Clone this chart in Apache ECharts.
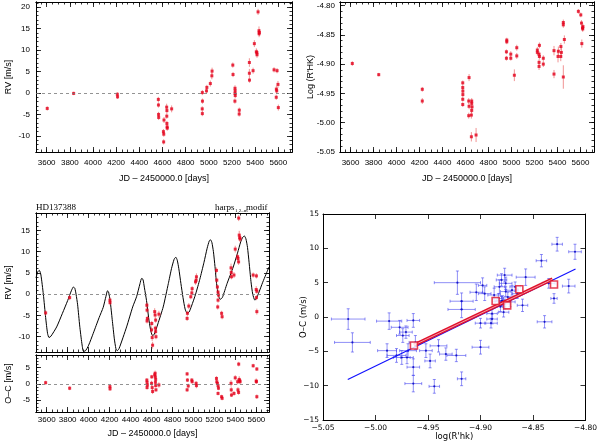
<!DOCTYPE html>
<html>
<head>
<meta charset="utf-8">
<script src="https://cdn.jsdelivr.net/npm/echarts@6/dist/echarts.min.js"></script>
<style>
html, body { margin: 0; padding: 0; background: #fff; }
#chart { width: 600px; height: 442px; }
</style>
</head>
<body>
<div id="chart"></div>
<script>
// [JD-2450000, RV m/s, err]
var rvTop = [
  [3605,-3.6,0.5],[3833,-0.1,0.4],[4210,-0.3,0.5],[4212,-0.9,0.5],
  [4564,-1.5,0.6],[4565,-2.8,0.6],[4566,-5.0,0.6],[4567,-5.7,0.6],
  [4613,-6.3,0.7],[4608,-9.0,0.6],[4611,-9.6,0.6],[4610,-11.4,0.6],
  [4636,-3.3,0.8],[4638,-4.1,0.7],[4637,-5.4,0.6],[4638,-7.1,0.6],[4640,-7.9,0.6],[4641,-8.2,0.6],
  [4679,-3.7,0.8],
  [4944,0.1,0.6],[4945,-1.9,0.6],[4943,-3.7,0.6],[4944,-4.8,0.6],
  [4980,0.5,0.6],[4983,1.3,0.6],[5013,2.2,0.7],[5026,4.0,0.8],[5028,5.1,0.8],
  [5207,6.5,0.6],[5209,4.3,0.6],[5226,1.1,0.7],[5227,0.5,0.6],[5226,-0.1,0.6],[5228,-0.6,0.6],[5225,-1.9,0.6],
  [5263,-4.0,0.6],[5262,-4.9,0.6],
  [5350,7.1,1.0],[5350,4.6,1.0],[5351,3.0,0.6],[5382,5.2,0.7],[5393,11.5,0.8],
  [5410,9.6,0.8],[5415,9.4,0.7],[5416,8.9,0.7],[5425,18.9,0.7],[5433,14.5,1.0],[5436,14.1,0.8],[5434,13.8,0.8],
  [5563,5.4,0.6],[5589,5.2,0.6],[5583,0.9,0.8],[5586,0.5,0.6],[5582,-1.0,0.6],[5597,2.0,0.8],[5600,-3.4,0.7]
];

// [JD-2450000, log R'HK, err]
var logTop = [
  [3615,-4.899,0.004],[3845,-4.918,0.003],[4224,-4.943,0.004],[4224,-4.963,0.005],
  [4576,-4.932,0.004],[4576,-4.940,0.004],[4577,-4.946,0.004],[4577,-4.952,0.004],[4576,-4.960,0.004],[4576,-4.969,0.004],
  [4631,-4.923,0.006],[4628,-4.963,0.005],[4631,-4.972,0.005],[4628,-4.988,0.005],
  [4654,-4.963,0.005],[4654,-4.967,0.005],[4657,-4.973,0.005],[4654,-4.979,0.005],[4651,-4.987,0.006],[4651,-5.024,0.008],
  [4692,-5.021,0.012],
  [4959,-4.859,0.004],[4959,-4.862,0.004],[4956,-4.879,0.004],[4956,-4.890,0.004],
  [4994,-4.883,0.005],[4994,-4.890,0.004],[5025,-4.919,0.010],[5046,-4.872,0.005],[5046,-4.886,0.005],
  [5225,-4.876,0.005],[5225,-4.880,0.005],[5240,-4.883,0.005],[5243,-4.887,0.005],[5240,-4.897,0.005],[5240,-4.904,0.006],[5243,-4.868,0.005],
  [5277,-4.890,0.005],[5277,-4.900,0.005],
  [5370,-4.877,0.008],[5370,-4.917,0.007],[5405,-4.887,0.010],[5408,-4.878,0.008],[5429,-4.887,0.008],[5434,-4.880,0.008],[5430,-4.870,0.006],
  [5451,-4.829,0.005],[5451,-4.833,0.005],[5451,-4.922,0.020],[5460,-4.858,0.007],
  [5582,-4.810,0.004],[5603,-4.816,0.004],[5609,-4.830,0.005],[5618,-4.838,0.005],[5612,-4.865,0.007],[5620,-4.840,0.005],[5622,-4.836,0.005]
];

// fitted panel: [JD-2450000, RV, err]
var rvFit = [
  [3590,-4.4,0.6],[3819,-0.8,0.6],[4203,-1.4,0.6],[4204,-2.0,0.6],
  [4555,-2.6,0.6],[4557,-3.75,0.6],[4560,-5.7,0.6],[4557,-6.3,0.6],
  [4602,-6.9,0.6],[4600,-8.4,0.8],[4606,-10.2,0.8],[4610,-12.0,0.8],
  [4630,-4.1,0.8],[4634,-4.9,0.8],[4639,-6.1,0.6],[4636,-8.0,0.6],[4639,-8.8,0.6],[4642,-10.0,0.6],
  [4670,-4.7,0.8],
  [4939,-5.7,0.6],[4942,-4.5,0.6],[4955,-2.8,0.7],[4974,-0.6,0.6],[4984,0.3,0.6],[4987,1.3,0.6],[5019,2.9,0.7],[5025,3.3,0.7],[5028,4.1,0.8],
  [5219,5.6,0.7],[5222,3.3,0.6],[5228,1.7,0.6],[5234,0.5,0.6],[5238,-0.2,0.6],[5234,-1.4,0.6],[5231,-3.0,0.6],
  [5268,-4.5,0.6],[5273,-5.3,0.6],
  [5358,6.2,1.0],[5360,5.1,0.8],[5362,4.1,0.6],[5386,4.5,0.7],[5398,10.6,0.8],
  [5421,8.8,0.8],[5424,8.4,0.8],[5430,7.6,0.7],[5431,17.9,0.7],[5436,13.9,1.0],[5441,13.3,0.8],[5444,13.0,0.8],
  [5569,4.5,0.6],[5600,4.3,0.6],[5598,1.1,0.8],[5604,0.7,0.6],[5600,-0.8,0.6],[5604,-4.1,0.7]
];

// residuals: [JD-2450000, O-C, err]
var ocFit = [
  [3590,0.4,0.6],[3819,-1.3,0.6],[4203,-0.8,0.6],[4204,-1.5,0.6],
  [4555,1.2,0.6],[4557,0.5,0.6],[4560,-0.3,0.6],[4557,-1.1,0.6],
  [4602,2.2,0.6],[4600,0.2,0.8],[4606,-1.1,0.8],[4610,-2.3,0.8],
  [4630,2.8,0.8],[4634,3.3,0.8],[4636,2.2,0.6],[4639,1.4,0.6],[4637,0.5,0.6],[4639,-0.5,0.6],[4642,-1.8,0.6],
  [4670,-0.3,0.8],
  [4939,3.1,0.6],[4942,1.2,0.6],[4950,-0.6,0.7],[4939,-1.8,0.6],
  [4984,1.2,0.6],[4987,0.7,0.6],[5025,0.2,0.7],[5028,-0.5,0.8],
  [5219,1.7,0.7],[5222,0.7,0.6],[5228,0.2,0.6],[5234,-0.5,0.6],[5238,-1.3,0.6],[5234,-2.9,0.6],
  [5268,-3.9,0.6],[5273,-4.4,0.6],
  [5358,0.2,1.0],[5360,-1.8,0.8],[5362,-3.4,0.6],[5386,-2.9,0.7],[5398,1.9,0.8],
  [5421,0.7,0.8],[5424,-1.8,0.8],[5430,-2.6,0.7],[5431,6.1,0.7],[5436,1.4,1.0],[5441,1.0,0.8],[5444,0.7,0.8],
  [5569,5.6,0.6],[5598,0.9,0.8],[5600,0.7,0.6],[5604,4.6,0.6],[5604,-3.9,0.7]
];

// model curve: [JD-2450000, RV]
var fitCurve = [
  [3498,3.8],[3515,5.3],[3530,5.6],[3545,4.5],[3568,0],[3590,-5.5],[3608,-9.2],[3622,-10.2],[3640,-9.9],
  [3695,-7.7],[3750,-4.5],[3800,-1.5],[3835,0.8],[3855,1.7],[3868,1.4],[3880,0],[3895,-2.5],[3915,-7.5],
  [3935,-11.5],[3950,-13.4],[3965,-13.4],[4000,-12],[4044,-9.2],[4100,-5.5],[4139,-3.1],[4165,-0.5],
  [4180,0.8],[4190,0.5],[4205,-1.5],[4225,-6],[4245,-10.5],[4260,-12.8],[4272,-13.3],[4290,-12.8],
  [4362,-7.7],[4420,-3],[4457,-0.6],[4490,2.5],[4505,3.7],[4518,3.5],[4532,1.5],[4552,-1.5],[4572,-5.5],
  [4590,-8.3],[4608,-9.7],[4625,-9.5],[4660,-7],[4711,-3],[4760,2.5],[4790,6],[4815,8.2],[4831,8.7],
  [4845,8],[4860,6],[4880,2.5],[4900,-0.8],[4920,-3.5],[4940,-4.5],[4958,-4.2],[4981,-2.8],[5020,0],
  [5060,3.5],[5100,7.5],[5130,10.8],[5150,12.5],[5162,12.8],[5175,12.2],[5190,10],[5205,6.5],[5220,2.5],
  [5238,-0.3],[5255,-1.2],[5275,-0.8],[5320,2.5],[5379,6.4],[5420,9.7],[5450,12.3],[5470,13.4],[5485,13.7],
  [5500,13],[5515,11],[5530,7.5],[5548,3],[5565,0],[5585,-1.4],[5600,-1.0],[5625,0.5],[5660,2.8],
  [5690,4.6],[5720,6.4]
];

// correlation panel: [log R'hk, O-C, yerr, xerr]
var ocAct = [
  [-5.026,-0.3,1.5,0.016],[-5.022,-3.7,1.4,0.017],[-4.987,-0.6,1.2,0.012],[-4.989,-4.9,1.0,0.009],
  [-4.977,-1.5,1.0,0.008],[-4.974,-2.7,1.0,0.006],[-4.971,-2.2,0.9,0.006],[-4.980,-5.6,1.0,0.009],
  [-4.975,-5.9,1.0,0.008],[-4.969,-4.9,1.0,0.008],[-4.970,-5.9,0.9,0.006],[-4.964,-0.5,1.0,0.006],
  [-4.964,-7.3,1.2,0.006],[-4.964,-9.7,1.2,0.008],[-4.962,-3.7,1.0,0.006],[-4.952,-4.9,1.0,0.006],
  [-4.948,-6.4,1.0,0.005],[-4.944,-10.1,1.0,0.005],[-4.940,-4.2,0.9,0.008],[-4.933,-5.4,0.9,0.006],
  [-4.923,-5.6,0.9,0.009],[-4.918,-9.0,1.0,0.004],[-4.922,5.0,1.7,0.022],[-4.918,2.3,1.2,0.011],
  [-4.918,1.1,1.2,0.013],[-4.900,-4.4,1.0,0.008],[-4.904,3.6,1.2,0.006],[-4.898,4.6,1.1,0.004],
  [-4.900,-0.9,0.7,0.005],[-4.896,3.4,1.0,0.006],[-4.890,-0.9,0.7,0.006],[-4.889,-0.3,0.7,0.005],
  [-4.889,0.5,0.7,0.005],[-4.887,3.2,1.0,0.006],[-4.883,2.7,0.7,0.005],[-4.881,1.5,0.7,0.005],
  [-4.880,2.3,0.7,0.006],[-4.882,4.4,1.0,0.005],[-4.880,5.4,0.9,0.005],[-4.879,2.4,0.7,0.006],
  [-4.878,0.7,0.7,0.005],[-4.877,1.9,0.7,0.005],[-4.876,3.7,0.7,0.005],[-4.876,4.9,0.9,0.006],
  [-4.874,2.9,0.7,0.006],[-4.872,2.2,0.7,0.005],[-4.877,6.1,1.0,0.007],[-4.870,3.9,0.7,0.006],
  [-4.867,4.4,0.7,0.005],[-4.865,3.4,0.7,0.005],[-4.860,1.7,0.9,0.005],[-4.857,5.8,1.2,0.009],
  [-4.842,8.2,0.9,0.005],[-4.839,-0.7,0.9,0.007],[-4.835,4.9,0.7,0.006],[-4.830,2.7,0.7,0.003],
  [-4.827,10.6,1.0,0.005],[-4.816,4.5,1.0,0.006],[-4.810,9.5,1.1,0.006]
];
var binSquares = [[-4.9634,-4.15],[-4.8856,2.34],[-4.8746,1.7],[-4.863,4.05],[-4.830,4.73]];
var binLine = [[-4.9634,-4.1],[-4.8315,5.5]];
var fitLine = [[-5.0264,-9.1],[-4.8095,7.0]];

// tick values
var jdTicks = [3600,3800,4000,4200,4400,4600,4800,5000,5200,5400,5600];
var rvTicksTop = [-10,-5,0,5,10,15,20];
var rvTicksFit = [-10,-5,0,5,10,15];
var ocTicks = [-5,0,5];
var logTicks = [-5.05,-5.00,-4.95,-4.90,-4.85,-4.80];

function steps(a, b, s) {
  var out = [];
  for (var v = a; v <= b + s * 0.01; v += s) out.push(Math.round(v * 1000) / 1000);
  return out;
}
var jdMinor = steps(3500, 5700, 50);
var rvMinor = steps(-13, 21, 1);
var ocMinor = steps(-8, 8, 1);
var logMinor = steps(-5.05, -4.80, 0.01);

var sans = 'Liberation Sans';
var RED = '#e3001b';

function axisSet(dim, grid, min, max, major, minor, lab, name) {
  var sides = dim === 'x' ? ['bottom', 'top'] : ['left', 'right'];
  var out = [];
  sides.forEach(function (side, s) {
    [[major, 5], [minor, 2.5]].forEach(function (t, m) {
      var ax = {
        type: 'value', gridIndex: grid, min: min, max: max, position: side,
        splitLine: { show: false },
        axisLine: { show: true, onZero: false, lineStyle: { color: '#000', width: 1 } },
        axisTick: { show: true, inside: true, length: t[1], customValues: t[0],
                    lineStyle: { color: '#000', width: 0.8 } },
        axisLabel: { show: false, customValues: t[0] }
      };
      if (s === 0 && m === 0) {
        if (lab) ax.axisLabel = Object.assign({ show: true, customValues: major, color: '#000',
                                                fontFamily: sans, fontSize: 8,
                                                formatter: function (v) { return String(v); } }, lab);
        if (name) Object.assign(ax, { nameLocation: 'middle', nameMoveOverlap: false,
          nameTextStyle: { color: '#000', fontFamily: sans, fontSize: 9 } }, name);
      }
      out.push(ax);
    });
  });
  return out;
}

function errBars(data, xi, yi, color, both) {
  return {
    type: 'custom', xAxisIndex: xi, yAxisIndex: yi, data: data, clip: true, silent: true, z: 2,
    renderItem: function (params, api) {
      var x = api.value(0), y = api.value(1), ey = api.value(2);
      var a = api.coord([x, y - ey]), b = api.coord([x, y + ey]);
      var kids = [{ type: 'line', shape: { x1: a[0], y1: a[1], x2: b[0], y2: b[1] },
                    style: { stroke: color, lineWidth: 1 } }];
      if (both) {
        var ex = api.value(3);
        var c = api.coord([x - ex, y]), d = api.coord([x + ex, y]);
        kids.push({ type: 'line', shape: { x1: c[0], y1: c[1], x2: d[0], y2: d[1] },
                    style: { stroke: color, lineWidth: 1 } });
        [[a, 'h'], [b, 'h'], [c, 'v'], [d, 'v']].forEach(function (p) {
          var q = p[0];
          kids.push({ type: 'line', shape: p[1] === 'h'
            ? { x1: q[0] - 1.5, y1: q[1], x2: q[0] + 1.5, y2: q[1] }
            : { x1: q[0], y1: q[1] - 1.5, x2: q[0], y2: q[1] + 1.5 },
            style: { stroke: color, lineWidth: 1 } });
        });
      }
      return { type: 'group', children: kids };
    }
  };
}

function points(data, xi, yi, zero) {
  var s = {
    type: 'scatter', xAxisIndex: xi, yAxisIndex: yi, data: data, symbol: 'rect', symbolSize: 3,
    itemStyle: { color: RED }, encode: { x: 0, y: 1 }, silent: true, z: 3
  };
  if (zero) s.markLine = {
    silent: true, symbol: 'none', label: { show: false }, animation: false,
    lineStyle: { type: [3, 3], color: '#777', width: 0.8 }, data: [{ yAxis: 0 }]
  };
  return s;
}

var xAxes = [].concat(
  axisSet('x', 0, 3508, 5718, jdTicks, jdMinor, { margin: 7 },
          { name: 'JD \u2013 2450000.0 [days]', nameGap: 22 }),
  axisSet('x', 1, 3508, 5718, jdTicks, jdMinor, { margin: 7 },
          { name: 'JD \u2013 2450000.0 [days]', nameGap: 22 }),
  axisSet('x', 2, 3498, 5720, jdTicks, jdMinor, null, null),
  axisSet('x', 3, 3498, 5720, jdTicks, jdMinor, { margin: 4 },
          { name: 'JD \u2013 2450000.0 [days]', nameGap: 17 })
);
var yAxes = [].concat(
  axisSet('y', 0, -13.75, 21.2, rvTicksTop, rvMinor, { margin: 6 },
          { name: 'RV [m/s]', nameGap: 23 }),
  axisSet('y', 1, -5.05, -4.794, logTicks, logMinor,
          { margin: 5, formatter: function (v) { return v.toFixed(2); } },
          { name: "Log (R'HK)", nameGap: 25 }),
  axisSet('y', 2, -13.6, 19.1, rvTicksFit, rvMinor, { margin: 6 },
          { name: 'RV [m/s]', nameGap: 23 }),
  axisSet('y', 3, -8.6, 8.9, ocTicks, ocMinor, { margin: 6 },
          { name: 'O\u2013C [m/s]', nameGap: 23 })
);

function brFmt(v, d) { return (v < 0 ? '\u2212' : '') + Math.abs(v).toFixed(d); }
var brTick = { show: true, inside: true, length: 5, lineStyle: { color: '#000', width: 0.8 } };
var brLine = { show: true, onZero: false, lineStyle: { color: '#000', width: 1 } };
xAxes.push({
  type: 'value', gridIndex: 4, min: -5.05, max: -4.80, interval: 0.05, position: 'bottom',
  splitLine: { show: false }, axisLine: brLine, axisTick: brTick,
  axisLabel: { color: '#000', fontFamily: 'DejaVu Sans', fontSize: 7.5, margin: 4,
               formatter: function (v) { return brFmt(v, 2); } },
  name: "log(R'hk)", nameLocation: 'middle', nameGap: 12, nameMoveOverlap: false,
  nameTextStyle: { color: '#000', fontFamily: 'DejaVu Sans', fontSize: 8.5 }
}, {
  type: 'value', gridIndex: 4, min: -5.05, max: -4.80, interval: 0.05, position: 'top',
  splitLine: { show: false }, axisLine: brLine, axisTick: brTick, axisLabel: { show: false }
});
yAxes.push({
  type: 'value', gridIndex: 4, min: -15, max: 15, interval: 5, position: 'left',
  splitLine: { show: false }, axisLine: brLine, axisTick: brTick,
  axisLabel: { color: '#000', fontFamily: 'DejaVu Sans', fontSize: 7.5, margin: 4,
               formatter: function (v) { return brFmt(v, 0); } },
  name: 'O\u2013C (m/s)', nameLocation: 'middle', nameGap: 15, nameMoveOverlap: false,
  nameTextStyle: { color: '#000', fontFamily: 'DejaVu Sans', fontSize: 8.5 }
}, {
  type: 'value', gridIndex: 4, min: -15, max: 15, interval: 5, position: 'right',
  splitLine: { show: false }, axisLine: brLine, axisTick: brTick, axisLabel: { show: false }
});

var chart = echarts.init(document.getElementById('chart'), null, { renderer: 'canvas' });

var option = {
  animation: false,
  backgroundColor: '#fff',
  grid: [
    { left: 36, top: 2, width: 256, height: 150 },
    { left: 340, top: 2, width: 254, height: 150 },
    { left: 36, top: 213, width: 233, height: 139 },
    { left: 36, top: 355, width: 233, height: 57 },
    { left: 323, top: 214, width: 264, height: 206 }
  ],
  xAxis: xAxes,
  yAxis: yAxes,
  graphic: [
    { type: 'text', left: 36, top: 203, style: { text: 'HD137388', fill: '#000', font: '9px "Liberation Serif"' } },
    { type: 'text', left: 215, top: 203, style: { text: 'harps', fill: '#000', font: '9px "Liberation Serif"' } },
    { type: 'text', left: 235, top: 208, style: { text: '1,2\u2013m', fill: '#000', font: '5px "Liberation Serif"' } },
    { type: 'text', left: 246, top: 203, style: { text: 'modif', fill: '#000', font: '9px "Liberation Serif"' } }
  ],
  series: [
    errBars(rvTop, 0, 0, 'rgba(230,60,60,0.55)', false),
    points(rvTop, 0, 0, true),
    errBars(logTop, 4, 4, 'rgba(230,60,60,0.55)', false),
    points(logTop, 4, 4, false),
    {
      type: 'line', xAxisIndex: 8, yAxisIndex: 8, data: fitCurve, showSymbol: false, smooth: 0.2,
      lineStyle: { color: '#000', width: 1 }, silent: true, z: 1, clip: true
    },
    errBars(rvFit, 8, 8, 'rgba(230,60,60,0.55)', false),
    points(rvFit, 8, 8, true),
    errBars(ocFit, 12, 12, 'rgba(230,60,60,0.55)', false),
    points(ocFit, 12, 12, true),
    errBars(ocAct, 16, 16, 'rgba(70,70,240,0.6)', true),
    {
      type: 'scatter', xAxisIndex: 16, yAxisIndex: 16, data: ocAct, encode: { x: 0, y: 1 },
      symbol: 'circle', symbolSize: 2.2, itemStyle: { color: '#0000c0' }, silent: true, z: 3
    },
    {
      type: 'line', xAxisIndex: 16, yAxisIndex: 16, data: fitLine, showSymbol: false,
      lineStyle: { color: '#1010ff', width: 1.2 }, silent: true, z: 4
    },
    {
      type: 'line', xAxisIndex: 16, yAxisIndex: 16, data: binLine, showSymbol: false,
      lineStyle: { color: '#e0102a', width: 3.6 }, silent: true, z: 5
    },
    {
      type: 'line', xAxisIndex: 16, yAxisIndex: 16, data: binLine, showSymbol: false,
      lineStyle: { color: '#f59aa6', width: 1 }, silent: true, z: 6
    },
    {
      type: 'scatter', xAxisIndex: 16, yAxisIndex: 16, data: binSquares, symbol: 'rect', symbolSize: 7,
      itemStyle: { color: '#fff', borderColor: '#e0102a', borderWidth: 1.6 }, silent: true, z: 7
    }
  ]
};
chart.setOption(option);
</script>
</body>
</html>
